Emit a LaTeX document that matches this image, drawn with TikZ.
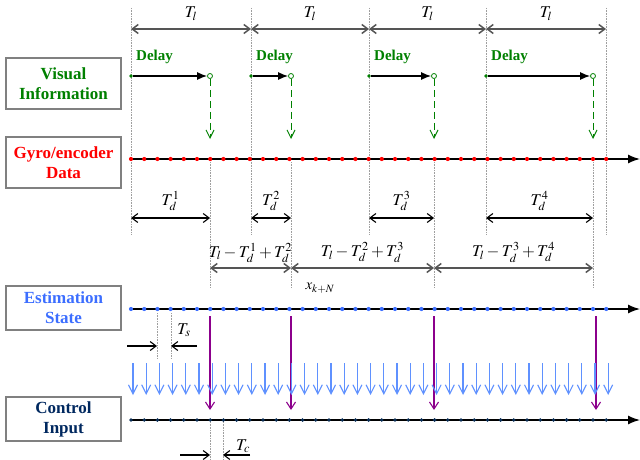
\documentclass[tikz,border=0pt]{standalone}
\usepackage{mathptmx}
\usepackage{fontspec}
\setmainfont{Liberation Serif}
\usetikzlibrary{arrows.meta}
\definecolor{vgreen}{RGB}{0,128,0}
\definecolor{gred}{RGB}{255,0,0}
\definecolor{eblue}{RGB}{60,110,255}
\definecolor{cnavy}{RGB}{0,40,95}
\definecolor{cdot}{RGB}{10,45,85}
\definecolor{mpurple}{RGB}{140,0,140}
\definecolor{lblue}{RGB}{95,145,255}
\definecolor{boxgray}{RGB}{128,128,128}
\definecolor{dimgray}{RGB}{85,85,85}
\begin{document}
\begin{tikzpicture}[x=1pt,y=-1pt,
  lbox/.style={draw=boxgray,line width=1.4pt,minimum width=115pt,align=center,
    font=\fontsize{17}{20}\selectfont\bfseries,inner sep=0pt},
  guide/.style={draw=gray!75,densely dotted,line width=0.6pt},
  barb/.tip={Straight Barb[length=6pt,width=9pt]},
  dimarrow/.style={line width=1.1pt,barb-barb},
  halfarrow/.style={line width=1.1pt,-barb},
  lbl/.style={font=\fontsize{16.5}{18}\selectfont,inner sep=0pt,text=black},
  delaylbl/.style={font=\fontsize{15}{16}\selectfont\bfseries,text=vgreen,anchor=west,inner sep=0pt},
  axis/.style={line width=1.4pt,-{Latex[length=12pt,width=9pt]}},
  dotmark/.style={circle,fill,inner sep=0pt,minimum size=4.2pt},
]
\useasboundingbox (0,0) rectangle (640,460);

% label boxes
\node[lbox,minimum height=51pt,text=vgreen] (vis) at (63.5,83.5) {Visual\\Information};
\node[lbox,minimum height=51pt,text=gred] (gyro) at (63.5,162.5) {Gyro/encoder\\Data};
\node[lbox,minimum height=44pt,text=eblue] (est) at (63.5,308) {Estimation\\State};
\node[lbox,minimum height=44pt,text=cnavy] (ctl) at (63.5,419) {Control\\Input};

% period guides
\foreach \n/\x in {a/131,b/251,c/369,d/486,e/606}{
  \coordinate (top\n) at (\x,29);
  \draw[guide] (\x,8) -- (\x,235);
}
% delay guides
\foreach \n/\x in {a/210,b/291,c/434,d/593}{
  \draw[guide] (\x,162) -- (\x,288);
}

% T_l arrows
\foreach \p/\q in {a/b,b/c,c/d,d/e}{
  \draw[dimarrow,dimgray,line width=1.5pt] (top\p) -- (top\q) node[lbl,midway,above=8pt] {$T_l$};
}

% Visual information delays
\foreach \n/\s/\e in {1/131/210,2/251/291,3/369/434,4/486/593}{
  \node[dotmark,fill=vgreen,minimum size=3.8pt] (vs\n) at (\s,76) {};
  \node[circle,draw=vgreen,fill=white,line width=0.8pt,inner sep=0pt,minimum size=5pt] (ve\n) at (\e,76) {};
  \draw[line width=1.3pt,-{Latex[length=10pt,width=8pt]}] (vs\n) -- (ve\n);
  \node[delaylbl] at (\s+5,57) {Delay};
  \coordinate (vd\n) at (\e,139);
  \draw[vgreen,dash pattern=on 7pt off 4pt,line width=1pt,-{Straight Barb[length=8pt,width=8pt]}] (ve\n) -- (vd\n);
}

% Gyro data axis
\coordinate (g0) at (131,159);
\coordinate (g1) at (640,159);
\draw[axis] (g0) -- (g1);
\foreach \i in {0,...,36}{
  \node[dotmark,fill=gred] at (131+13.2*\i,159) {};
}

% T_d arrows
\foreach \k/\s/\e in {1/131/210,2/251/291,3/369/434,4/486/593}{
  \coordinate (ts\k) at (\s,218);
  \coordinate (te\k) at (\e,218);
  \draw[dimarrow,black] (ts\k) -- (te\k) node[lbl,midway,above=7pt] {$T_d^{\k}$};
}

% combined intervals
\coordinate (ca) at (210,268);
\coordinate (cb) at (291,268);
\coordinate (cc) at (434,268);
\coordinate (cd) at (593,268);
\draw[dimarrow,dimgray,line width=1.5pt] (ca) -- (cb) node[lbl,midway,above=5pt] {$T_l-T_d^1+T_d^2$};
\draw[dimarrow,dimgray,line width=1.5pt] (cb) -- (cc) node[lbl,midway,above=5pt] {$T_l-T_d^2+T_d^3$};
\draw[dimarrow,dimgray,line width=1.5pt] (cc) -- (cd) node[lbl,midway,above=5pt] {$T_l-T_d^3+T_d^4$};
\node[font=\fontsize{15}{16}\selectfont,inner sep=0pt] (xk) at (320,288) {$x_{k+N}$};

% Estimation state axis
\coordinate (e0) at (131,309);
\coordinate (e1) at (640,309);
\draw[axis] (e0) -- (e1);
\foreach \i in {0,...,36}{
  \node[dotmark,fill=eblue] at (131+13.2*\i,309) {};
}

% T_s
\draw[guide] (157,313) -- (157,358);
\draw[guide] (171,313) -- (171,358);
\coordinate (tsl) at (127,346);
\coordinate (tsa) at (157,346);
\coordinate (tsb) at (171,346);
\coordinate (tsr) at (197,346);
\draw[halfarrow] (tsl) -- (tsa);
\draw[halfarrow] (tsr) -- (tsb);
\node[lbl] at (184,330) {$T_s$};

% purple transfer arrows
\foreach \x in {210,291,434,596}{
  \draw[mpurple,line width=1.1pt,-{Straight Barb[length=7pt,width=9pt]}] (\x,316) -- (\x,410);
}
% blue arrows
\foreach \i in {0,...,36}{
  \draw[lblue,line width=1.1pt,-{Straight Barb[length=9pt,width=9pt]}] (133+13.2*\i,363) -- (133+13.2*\i,395);
}

% Control input axis
\coordinate (c0) at (131,420);
\coordinate (c1) at (640,420);
\draw[axis] (c0) -- (c1);
\foreach \i in {0,...,36}{
  \node[dotmark,fill=cdot,minimum size=3.8pt] at (131+13.2*\i,420) {};
}

% T_c
\draw[guide] (210,422) -- (210,460);
\draw[guide] (223,422) -- (223,460);
\coordinate (tcl) at (180,455);
\coordinate (tca) at (210,455);
\coordinate (tcb) at (223,455);
\coordinate (tcr) at (250,455);
\draw[halfarrow] (tcl) -- (tca);
\draw[halfarrow] (tcr) -- (tcb);
\node[lbl] at (243,446) {$T_c$};
\end{tikzpicture}
\end{document}
